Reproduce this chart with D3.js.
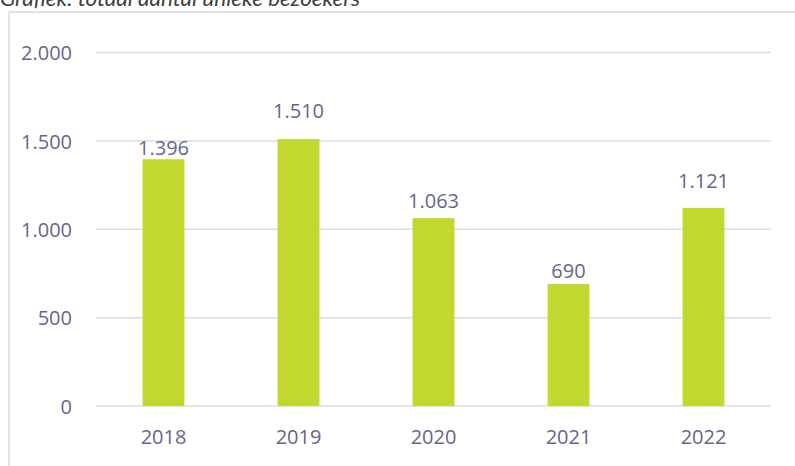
<!DOCTYPE html>
<html>
<head>
<meta charset="utf-8">
<script src="https://cdn.jsdelivr.net/npm/d3@7"></script>
<style>
  html, body { margin: 0; padding: 0; background: #ffffff; }
  svg { display: block; }
</style>
</head>
<body>
<svg id="chart" width="795" height="466"></svg>
<script>
// ---- data ----
const titleText = "Grafiek: totaal aantal unieke bezoekers";
const categories = ["2018", "2019", "2020", "2021", "2022"];
const values = [1396, 1510, 1063, 690, 1121];
const labels = ["1.396", "1.510", "1.063", "690", "1.121"];
const yTicks = [0, 500, 1000, 1500, 2000];
const yTickLabels = ["0", "500", "1.000", "1.500", "2.000"];

// ---- layout / style (not data) ----
const labelLift = [4, 21, 10, 6, 20]; // gap between bar top and label baseline, as placed in the original
const textColor = "#66668c";
const barColor = "#c3d82f";
const gridColor = "#dcdce4";
const fontFam = "'Open Sans', 'DejaVu Sans', sans-serif";

const svg = d3.select("#chart");

const x = d3.scaleBand().domain(categories).range([96, 771]).paddingInner(0.69).paddingOuter(0.345);
const y = d3.scaleLinear().domain([0, 2000]).range([406, 52.5]);

// frame
svg.append("line").attr("x1", 9).attr("x2", 795).attr("y1", 12).attr("y2", 12)
  .attr("stroke", "#d9d9e0").attr("stroke-width", 1.5);
svg.append("line").attr("x1", 9).attr("x2", 9).attr("y1", 12).attr("y2", 466)
  .attr("stroke", "#d9d9e0").attr("stroke-width", 1.5);

// title (clipped at top as in the original)
svg.append("text").attr("x", 0).attr("y", 6)
  .attr("font-family", "Lato, 'Open Sans', sans-serif").attr("font-style", "italic")
  .attr("font-size", 22).attr("fill", "#404040")
  .attr("textLength", 360).attr("lengthAdjust", "spacingAndGlyphs")
  .text(titleText);

// gridlines
svg.append("g").selectAll("line").data(yTicks).join("line")
  .attr("x1", 96).attr("x2", 771)
  .attr("y1", d => y(d)).attr("y2", d => y(d))
  .attr("stroke", gridColor).attr("stroke-width", 1.5);

// y axis labels
const yAxis = d3.axisLeft(y).tickValues(yTicks).tickSize(0).tickPadding(0)
  .tickFormat((d, i) => yTickLabels[i]);
const gy = svg.append("g").attr("transform", "translate(72,0)").call(yAxis);
gy.select(".domain").remove();
gy.selectAll("text").attr("font-family", fontFam).attr("font-size", 20)
  .attr("fill", textColor).attr("dy", "0.36em");

// x axis labels
const xAxis = d3.axisBottom(x).tickSize(0).tickPadding(0);
const gx = svg.append("g").attr("transform", "translate(0,429)").call(xAxis);
gx.select(".domain").remove();
gx.selectAll("text").attr("font-family", fontFam).attr("font-size", 20)
  .attr("fill", textColor).attr("dy", "0.75em");

// bars
svg.append("g").selectAll("rect").data(values).join("rect")
  .attr("x", (d, i) => x(categories[i]))
  .attr("width", x.bandwidth())
  .attr("y", d => y(d))
  .attr("height", d => y(0) - y(d))
  .attr("fill", barColor);

// data labels
svg.append("g").selectAll("text").data(values).join("text")
  .attr("x", (d, i) => x(categories[i]) + x.bandwidth() / 2)
  .attr("y", (d, i) => y(d) - labelLift[i])
  .attr("text-anchor", "middle")
  .attr("font-family", fontFam).attr("font-size", 20).attr("fill", textColor)
  .text((d, i) => labels[i]);
</script>
</body>
</html>
